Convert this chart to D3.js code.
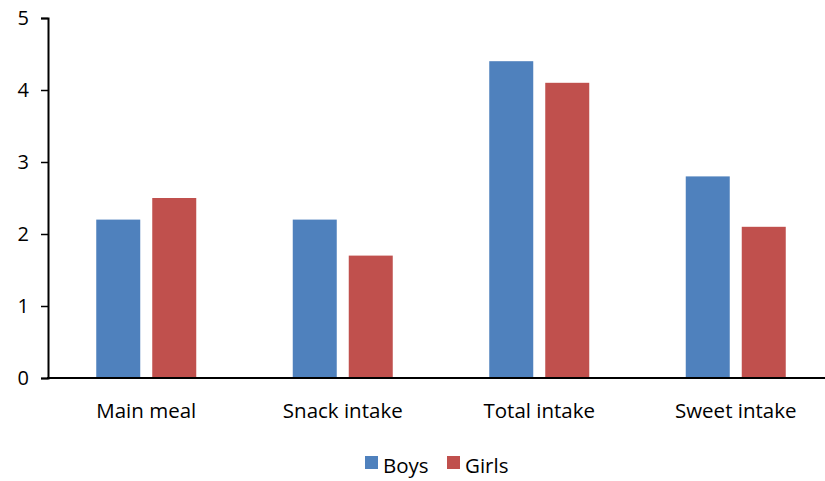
<!DOCTYPE html>
<html><head><meta charset="utf-8">
<script src="https://cdn.jsdelivr.net/npm/d3@7"></script>
<style>body{margin:0;background:#fff}svg{display:block}text{font-family:"Open Sans","Noto Sans",sans-serif;fill:#000}</style>
</head><body>
<script>
const categories = ["Main meal","Snack intake","Total intake","Sweet intake"];
const seriesNames = ["Boys","Girls"];
const boys = [2.2,2.2,4.4,2.8];
const girls = [2.5,1.7,4.1,2.1];
const yTicks = [0,1,2,3,4,5];
const colors = ["#4F81BD","#C0504D"];

const W=825,H=481;
const svg=d3.select("body").append("svg").attr("width",W).attr("height",H);
const x=d3.scaleBand().domain(categories).range([48,834]);
const y=d3.scaleLinear().domain([0,5]).range([378,18]);
const sub=d3.scaleBand().domain(seriesNames).range([0,100]).paddingInner(12/56);
const data=categories.map((c,i)=>({c,vals:[boys[i],girls[i]]}));

const g=svg.append("g");
data.forEach(d=>{
  d.vals.forEach((v,j)=>{
    const cx=x(d.c)+x.bandwidth()/2-50;
    g.append("rect").attr("x",cx+sub(seriesNames[j])).attr("width",sub.bandwidth())
      .attr("y",y(v)).attr("height",y(0)-y(v)).attr("fill",colors[j]);
  });
});

const ya=svg.append("g").attr("transform","translate(48,0)")
  .call(d3.axisLeft(y).tickValues(yTicks).tickSize(7).tickPadding(12).tickFormat(d3.format("d")));
ya.select(".domain").attr("stroke","#000").attr("stroke-width",2);
ya.selectAll(".tick line").attr("stroke","#000").attr("stroke-width",1.5);
ya.selectAll("text").style("font-size","20px").attr("fill","#000");

svg.append("line").attr("x1",47).attr("x2",825).attr("y1",y(0)).attr("y2",y(0)).attr("stroke","#000").attr("stroke-width",2);

svg.append("g").selectAll("text").data(categories).join("text")
  .attr("x",d=>x(d)+x.bandwidth()/2).attr("y",418).attr("text-anchor","middle")
  .style("font-size","20.5px").text(d=>d);

const leg=svg.append("g");
const lx=[365,447];
seriesNames.forEach((s,i)=>{
  leg.append("rect").attr("x",lx[i]).attr("y",456).attr("width",13).attr("height",13).attr("fill",colors[i]);
  leg.append("text").attr("x",lx[i]+18).attr("y",473).style("font-size","20.5px").text(s);
});
</script>
</body></html>
